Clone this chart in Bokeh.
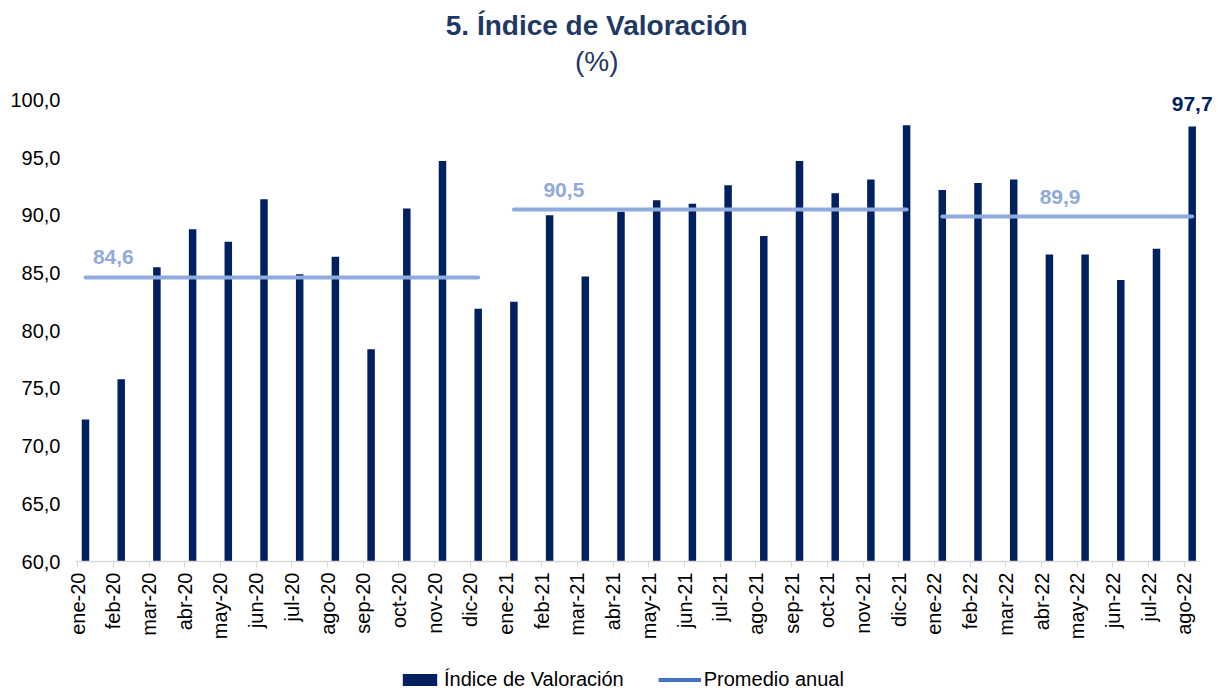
import math
from bokeh.plotting import figure
from bokeh.layouts import column
from bokeh.models import (Range1d, FixedTicker, Legend, LegendItem, ColumnDataSource)
from bokeh.core.properties import value
from bokeh.embed import file_html
from bokeh.resources import INLINE

# ---------------- data ----------------
months = ["ene-20", "feb-20", "mar-20", "abr-20", "may-20", "jun-20", "jul-20", "ago-20",
          "sep-20", "oct-20", "nov-20", "dic-20",
          "ene-21", "feb-21", "mar-21", "abr-21", "may-21", "jun-21", "jul-21", "ago-21",
          "sep-21", "oct-21", "nov-21", "dic-21",
          "ene-22", "feb-22", "mar-22", "abr-22", "may-22", "jun-22", "jul-22", "ago-22"]
indice = [72.3, 75.8, 85.5, 88.8, 87.7, 91.4, 84.9, 86.4, 78.4, 90.6, 94.7, 81.9,
          82.5, 90.0, 84.7, 90.3, 91.3, 91.0, 92.6, 88.2, 94.7, 91.9, 93.1, 97.8,
          92.2, 92.8, 93.1, 86.6, 86.6, 84.4, 87.1, 97.7]
years = ["20", "21", "22"]
promedio_anual = [84.6, 90.5, 89.9]
y_ticks = [60, 65, 70, 75, 80, 85, 90, 95, 100]
title_text = "5. Índice de Valoración"
subtitle_text = "(%)"
legend_labels = ["Índice de Valoración", "Promedio anual"]

# ---------------- style ----------------
FONT = "Liberation Sans"
NAVY = "#002060"
LIGHT = "#8FAADC"
LEGEND_LINE = "#4472C4"
TITLE_COLOR = "#1F3864"
BAR_SHIFT = 0.22
avg_label_dx = [0.78, 1.4, 3.3]
avg_label_dy = [1.8, 1.65, 1.7]
PX_PER_UNIT = 11.54          # vertical scale of the reference (px per index point)
PX_PER_CAT = 35.70           # horizontal scale of the reference (px per month)
FRAME_TOP, FRAME_BOTTOM = 2, 561
FRAME_LEFT, AXIS_END, FRAME_RIGHT = 75, 1200, 1212
W, H_MAIN, H_LEG = 1214, 655, 36
X_START = -0.06
X_AXIS_END = X_START + (AXIS_END - FRAME_LEFT) / PX_PER_CAT
X_END = X_START + (FRAME_RIGHT - FRAME_LEFT) / PX_PER_CAT

def fmt(v):
    return f"{v:.1f}".replace(".", ",")

y_top = 60 + (FRAME_BOTTOM - FRAME_TOP) / PX_PER_UNIT   # invisible head-room for titles
p = figure(width=W, height=H_MAIN, output_backend="svg", toolbar_location=None,
           x_range=Range1d(X_START, X_END), y_range=Range1d(60, y_top),
           min_border_left=FRAME_LEFT, min_border_right=W - FRAME_RIGHT,
           min_border_top=FRAME_TOP, min_border_bottom=H_MAIN - FRAME_BOTTOM)
p.outline_line_color = None
p.xgrid.visible = False
p.ygrid.visible = False
p.background_fill_color = "white"
p.border_fill_color = "white"

# bars
xb = [i + BAR_SHIFT for i in range(len(months))]
src = ColumnDataSource(dict(x=xb, top=indice, label=months))
p.vbar(x="x", top="top", bottom=60, width=0.21, source=src, fill_color=NAVY, line_color=None)

# annual averages
x0, x1, ys = [], [], []
for yr, avg in zip(years, promedio_anual):
    idx = [i for i, m in enumerate(months) if m.endswith(yr)]
    x0.append(idx[0] + BAR_SHIFT)
    x1.append(idx[-1] + BAR_SHIFT)
    ys.append(avg)
p.segment(x0=x0, y0=ys, x1=x1, y1=ys, line_color=LIGHT, line_width=4, line_cap="round")
p.text(x=[a + d for a, d in zip(x0, avg_label_dx)],
       y=[v + d for v, d in zip(promedio_anual, avg_label_dy)],
       text=[fmt(v) for v in promedio_anual],
       text_font=value(FONT), text_font_size="21px", text_font_style="bold",
       text_color=LIGHT, text_align="center", text_baseline="middle")

# last value label
p.text(x=[xb[-1]], y=[indice[-1] + 1.95], text=[fmt(indice[-1])],
       text_font=value(FONT), text_font_size="21px", text_font_style="bold",
       text_color=NAVY, text_align="center", text_baseline="middle")

# titles (drawn in the head-room above 100)
p.text(x=[14.54], y=[60 + (FRAME_BOTTOM - 25) / PX_PER_UNIT], text=[title_text],
       text_font=value(FONT), text_font_size="28px", text_font_style="bold",
       text_color=TITLE_COLOR, text_align="center", text_baseline="middle")
p.text(x=[14.54], y=[60 + (FRAME_BOTTOM - 61) / PX_PER_UNIT], text=[subtitle_text],
       text_font=value(FONT), text_font_size="28px", text_font_style="normal",
       text_color=TITLE_COLOR, text_align="center", text_baseline="middle")

# axes
p.yaxis.ticker = FixedTicker(ticks=y_ticks)
p.yaxis.major_label_overrides = {t: fmt(t) for t in y_ticks}
p.yaxis.axis_line_color = None
p.yaxis.major_tick_line_color = None
p.yaxis.minor_tick_line_color = None
p.yaxis.major_label_standoff = 9
p.yaxis.major_label_text_font = FONT
p.yaxis.major_label_text_font_size = "20px"
p.yaxis.major_label_text_color = "#000000"

p.xaxis.ticker = FixedTicker(ticks=list(range(len(months))))
p.xaxis.major_label_overrides = {i: m for i, m in enumerate(months)}
p.xaxis.bounds = (X_START, X_AXIS_END)
p.xaxis.major_label_orientation = math.pi / 2
p.xaxis.axis_line_color = "#D9D9D9"
p.xaxis.axis_line_width = 1.5
p.xaxis.major_tick_line_color = "#D9D9D9"
p.xaxis.major_tick_out = 6
p.xaxis.major_tick_in = 0
p.xaxis.minor_tick_line_color = None
p.xaxis.major_label_standoff = 5
p.xaxis.major_label_text_font = FONT
p.xaxis.major_label_text_font_size = "20px"
p.xaxis.major_label_text_color = "#000000"

# ---------------- legend strip ----------------
pl = figure(width=W, height=H_LEG, output_backend="svg", toolbar_location=None,
            x_range=Range1d(0, 1), y_range=Range1d(0, 1),
            min_border=0, min_border_left=0, min_border_right=0,
            min_border_top=0, min_border_bottom=0)
pl.axis.visible = False
pl.grid.visible = False
pl.outline_line_color = None
pl.border_fill_color = "white"
nan = float("nan")
leg_bar = pl.vbar(x=[nan], top=[nan], width=1, fill_color=NAVY, line_color=None)
leg_line = pl.line(x=[nan, nan], y=[nan, nan], line_color=LEGEND_LINE, line_width=4)
legend = Legend(items=[LegendItem(label=legend_labels[0], renderers=[leg_bar]),
                       LegendItem(label=legend_labels[1], renderers=[leg_line])],
                location=(398 - FRAME_LEFT, 0), orientation="horizontal",
                glyph_width=43, glyph_height=15, label_standoff=3, spacing=34,
                padding=0, margin=0,
                border_line_color=None, background_fill_alpha=0,
                label_text_font=FONT, label_text_font_size="20px", label_text_color="#000000")
pl.add_layout(legend, "center")

open("out.html", "w").write(file_html(column(p, pl, spacing=0), INLINE))
